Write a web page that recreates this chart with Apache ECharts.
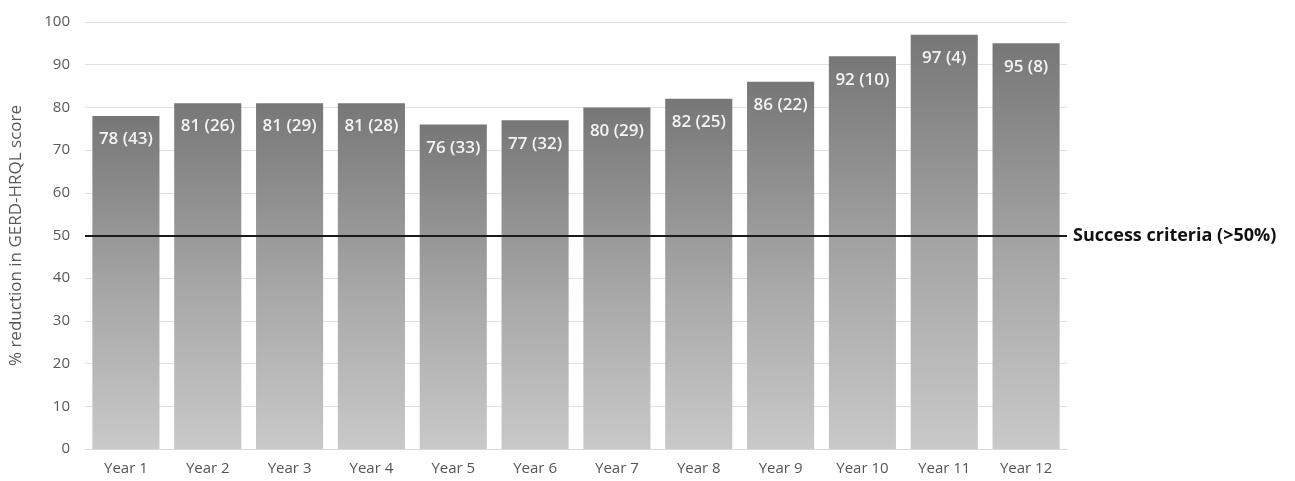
<!DOCTYPE html>
<html>
<head>
<meta charset="utf-8">
<script src="https://cdn.jsdelivr.net/npm/echarts@6/dist/echarts.min.js"></script>
<style>
  html, body { margin: 0; padding: 0; background: #fff; }
  #chart { width: 1295px; height: 481px; }
</style>
</head>
<body>
<div id="chart"></div>
<script>
// Percent reduction in GERD-HRQL score per follow-up year, with patient count n
const years = ['Year 1', 'Year 2', 'Year 3', 'Year 4', 'Year 5', 'Year 6',
               'Year 7', 'Year 8', 'Year 9', 'Year 10', 'Year 11', 'Year 12'];
const reduction = [78, 81, 81, 81, 76, 77, 80, 82, 86, 92, 97, 95];
const patients = [43, 26, 29, 28, 33, 32, 29, 25, 22, 10, 4, 8];
const successThreshold = 50;

const font = '"Open Sans", Lato, "Liberation Sans", sans-serif';

const chart = echarts.init(document.getElementById('chart'));
chart.setOption({
  animation: false,
  grid: { left: 85, right: 228, top: 22, bottom: 32 },
  xAxis: {
    type: 'category',
    data: years,
    axisTick: { show: false },
    axisLine: { lineStyle: { color: '#d9d9d9', width: 1 } },
    axisLabel: { color: '#555555', fontSize: 15, fontFamily: font, margin: 12 }
  },
  yAxis: {
    type: 'value',
    min: 0, max: 100, interval: 10,
    name: '% reduction in GERD-HRQL score',
    nameLocation: 'middle',
    nameGap: 60,
    nameTextStyle: { color: '#595959', fontSize: 17, fontFamily: font },
    axisLine: { show: false },
    axisTick: { show: false },
    axisLabel: { color: '#595959', fontSize: 15, fontFamily: font, margin: 15 },
    splitLine: { lineStyle: { color: '#e0e0e0', width: 1 } }
  },
  series: [{
    type: 'bar',
    data: reduction,
    barCategoryGap: '18%',
    itemStyle: {
      color: new echarts.graphic.LinearGradient(0, 0, 0, 1, [
        { offset: 0, color: '#777777' },
        { offset: 0.55, color: '#a8a8a8' },
        { offset: 1, color: '#c9c9c9' }
      ])
    },
    label: {
      show: true,
      position: 'insideTop',
      distance: 15,
      color: '#f4f4f4',
      fontSize: 17,
      fontWeight: 600,
      fontFamily: font,
      formatter: p => p.value + ' (' + patients[p.dataIndex] + ')'
    },
    markLine: {
      symbol: 'none',
      silent: true,
      lineStyle: { color: '#1a1a1a', width: 2, type: 'solid' },
      label: {
        position: 'end',
        distance: 6,
        formatter: 'Success criteria (>50%)',
        color: '#111',
        fontSize: 18,
        fontWeight: 'bold',
        fontFamily: font
      },
      data: [{ yAxis: successThreshold }]
    }
  }]
});
</script>
</body>
</html>
